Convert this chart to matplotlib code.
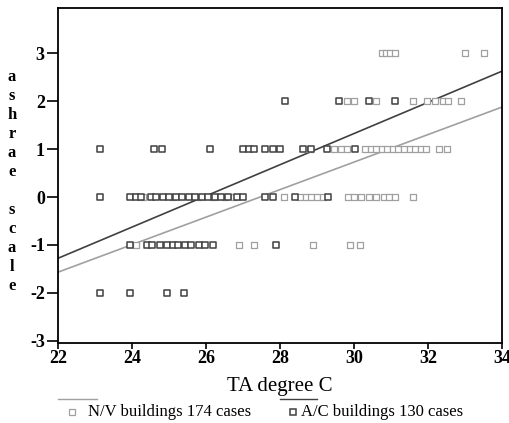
import matplotlib
matplotlib.use('Agg')
import matplotlib.pyplot as plt
from matplotlib.lines import Line2D

plt.rcParams['font.family'] = ['Liberation Serif', 'DejaVu Serif']
plt.rcParams['axes.unicode_minus'] = False

# N/V buildings (gray squares)
nv_ta = [30.75, 30.87, 30.98, 31.1, 33.0, 33.5,
         29.8, 30.0, 30.6, 31.6, 31.97, 32.2, 32.4, 32.55, 32.9,
         28.8, 29.45, 29.65, 29.8, 30.3, 30.45, 30.6, 30.75, 30.9, 31.05, 31.2,
         31.35, 31.5, 31.65, 31.8, 31.95, 32.3, 32.5,
         24.3, 25.1, 25.8, 26.2, 26.5, 26.75, 28.1, 28.55, 28.7, 28.85, 29.0,
         29.15, 29.85, 30.0, 30.2, 30.4, 30.6, 30.8, 30.95, 31.1, 31.6,
         24.1, 26.9, 27.3, 28.9, 29.9, 30.15]
nv_vote = [3] * 6 + [2] * 9 + [1] * 18 + [0] * 21 + [-1] * 6

# A/C buildings (dark squares)
ac_ta = [28.14, 29.6, 30.4, 31.1,
         23.14, 24.6, 24.8, 26.1, 27.0, 27.15, 27.3, 27.6, 27.8, 28.0,
         28.62, 28.85, 29.27, 30.03,
         23.14, 23.95, 24.1, 24.25, 24.5, 24.65, 24.85, 25.0, 25.2, 25.35,
         25.55, 25.7, 25.9, 26.05, 26.25, 26.4, 26.6, 26.85, 27.0, 27.6,
         27.8, 28.4, 29.3,
         23.95, 24.4, 24.55, 24.75, 24.95, 25.1, 25.25, 25.43, 25.6, 25.8,
         25.97, 26.2, 27.9,
         23.14, 23.95, 24.95, 25.4]
ac_vote = [2] * 4 + [1] * 14 + [0] * 23 + [-1] * 13 + [-2] * 4

# fitted lines (end points)
fit_x = [22, 34]
nv_fit = [-1.57, 1.88]
ac_fit = [-1.28, 2.63]

nv_color = '#a0a0a0'
ac_color = '#404040'

fig = plt.figure(figsize=(5.1, 4.23), dpi=100)
ax = fig.add_axes([58 / 510, 1 - 343 / 423, 444 / 510, 335 / 423])

ax.scatter(nv_ta, nv_vote, marker='s', s=22, facecolors='white',
           edgecolors=nv_color, linewidths=0.9, zorder=3)
ax.scatter(ac_ta, ac_vote, marker='s', s=22, facecolors='white',
           edgecolors=ac_color, linewidths=1.1, zorder=3)
ax.plot(fit_x, nv_fit, color=nv_color, linewidth=1.2, zorder=2)
ax.plot(fit_x, ac_fit, color=ac_color, linewidth=1.2, zorder=2)

ax.set_xlim(22, 34)
ax.set_ylim(-3.05, 3.95)
ax.set_xticks(range(22, 35, 2))
ax.set_yticks(range(-3, 4))
ax.tick_params(axis='y', length=8, width=1.2, pad=1.5, labelsize=13)
ax.tick_params(axis='x', length=4, width=1.2, pad=1, labelsize=13)
for lab in ax.get_yticklabels() + ax.get_xticklabels():
    lab.set_fontweight('bold')
for s in ax.spines.values():
    s.set_linewidth(1.3)

ax.set_xlabel('TA degree C', fontsize=15, labelpad=7)
fig.text(12 / 510, 1 - 181 / 423, '\n'.join('ashrae scale'), fontsize=12,
         fontweight='bold', ha='center', va='center', linespacing=1.25)

# legend drawn under the axis, SPSS style
yl = 1 - 399 / 423
yt = 1 - 412 / 423
fig.add_artist(Line2D([58 / 510, 97 / 510], [yl, yl], color=nv_color, lw=1))
fig.add_artist(Line2D([72 / 510], [yt], marker='s', markersize=4.5,
                      markerfacecolor='white', markeredgecolor=nv_color,
                      markeredgewidth=0.9, linestyle='none'))
fig.text(88 / 510, yt, 'N/V buildings 174 cases', fontsize=12, va='center')
fig.add_artist(Line2D([280 / 510, 317 / 510], [yl, yl], color=ac_color, lw=1))
fig.add_artist(Line2D([293 / 510], [yt], marker='s', markersize=4.5,
                      markerfacecolor='white', markeredgecolor=ac_color,
                      markeredgewidth=1.1, linestyle='none'))
fig.text(301 / 510, yt, 'A/C buildings 130 cases', fontsize=12, va='center')

fig.savefig('out.png', dpi=100)
